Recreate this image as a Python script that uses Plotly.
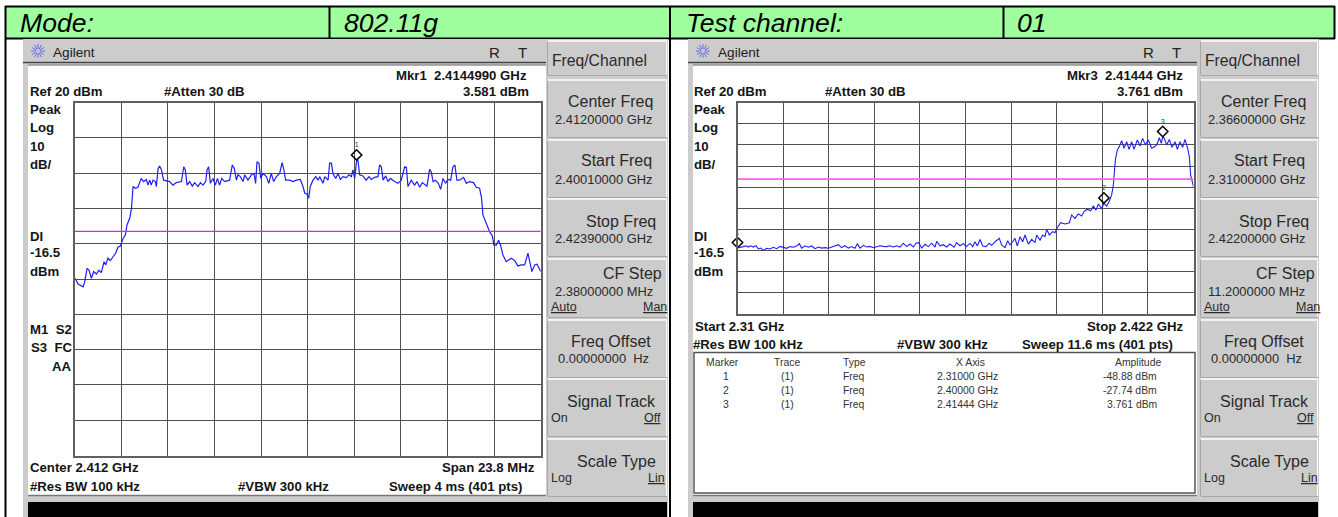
import math
import plotly.graph_objects as go

W, H = 1338, 517

# ---- data: left sweep (802.11g, ch 01), MHz and dBm ----
left_freq = [2400.10,2400.15,2400.27,2400.53,2400.61,2400.73,2400.83,2400.95,2401.07,2401.21,2401.34,2401.46,2401.60,2401.68,2401.80,2401.92,2402.06,2402.19,2402.31,2402.43,2402.57,2402.69,2402.77,2402.91,2403.00,2403.08,2403.20,2403.33,2403.50,2403.62,2403.76,2403.84,2403.93,2404.01,2404.10,2404.22,2404.27,2404.36,2404.44,2404.53,2404.64,2404.78,2404.95,2405.12,2405.29,2405.55,2405.67,2405.75,2405.84,2405.97,2406.11,2406.23,2406.40,2406.52,2406.65,2406.79,2406.86,2406.94,2407.03,2407.16,2407.28,2407.39,2407.50,2407.61,2407.76,2408.01,2408.15,2408.25,2408.36,2408.44,2408.56,2408.70,2408.78,2408.95,2409.12,2409.26,2409.34,2409.41,2409.51,2409.60,2409.72,2409.89,2410.01,2410.14,2410.26,2410.40,2410.57,2410.69,2410.77,2410.87,2411.08,2411.25,2411.42,2411.62,2411.76,2411.85,2411.96,2412.05,2412.13,2412.27,2412.41,2412.53,2412.61,2412.78,2412.87,2413.04,2413.12,2413.21,2413.29,2413.43,2413.55,2413.67,2413.80,2413.97,2414.11,2414.23,2414.31,2414.40,2414.50,2414.57,2414.65,2414.82,2414.99,2415.13,2415.25,2415.42,2415.59,2415.67,2415.76,2415.85,2415.98,2416.10,2416.22,2416.44,2416.61,2416.78,2416.95,2417.04,2417.12,2417.29,2417.46,2417.58,2417.72,2417.85,2418.09,2418.23,2418.31,2418.40,2418.53,2418.67,2418.79,2418.91,2419.04,2419.16,2419.30,2419.42,2419.52,2419.62,2419.76,2419.96,2420.10,2420.27,2420.47,2420.61,2420.78,2420.88,2420.95,2421.12,2421.29,2421.43,2421.51,2421.63,2421.75,2421.85,2421.97,2422.14,2422.40,2422.57,2422.74,2422.91,2423.08,2423.25,2423.33,2423.45,2423.59,2423.71,2423.90]
left_dbm = [-29.8,-30.1,-31.4,-32.2,-30.8,-27.0,-27.5,-29.8,-27.9,-28.6,-27.5,-28.2,-25.1,-26.0,-24.1,-24.8,-23.7,-22.7,-21.0,-20.7,-18.5,-17.5,-14.7,-12.8,-10.0,-3.8,-4.3,-4.0,-1.5,-2.4,-1.8,-3.4,-2.0,-3.4,-2.0,-2.4,-3.8,1.3,2.0,0.9,-2.0,-2.1,-2.4,-3.4,-2.7,-2.4,1.8,0.9,-3.4,-2.4,-3.7,-2.7,-3.8,-2.7,-3.4,-2.4,0.9,1.8,-2.9,-1.5,-3.4,-1.5,-3.4,-1.5,-2.4,-2.0,2.3,1.3,-2.0,-0.5,-1.0,-2.4,-0.5,-2.0,-0.5,-0.1,-2.9,3.2,2.8,-1.5,-0.1,-1.0,-2.9,-0.1,-2.4,-1.0,-0.1,3.0,1.3,-2.0,-2.0,-2.4,-2.0,-1.8,-3.8,-5.7,-5.9,-7.1,-3.8,-2.0,-1.0,-2.0,-1.0,-2.9,-1.0,-2.0,2.8,2.8,-0.1,-1.5,-0.1,-1.8,-1.0,-1.3,-0.5,-1.0,0.9,-1.5,3.581,3.5,-0.5,-0.8,-2.0,-1.0,-1.8,-1.2,-1.0,2.3,1.8,-2.0,-0.8,-2.4,-1.5,-2.4,-2.9,-2.0,1.8,1.6,-3.8,-2.0,-3.4,-2.4,-4.0,-2.7,-3.7,1.1,0.4,-2.4,-2.0,-2.9,-4.6,-1.5,-2.9,-1.8,-2.0,1.8,2.3,-2.0,-2.0,-1.2,-2.9,-2.4,-2.7,-4.0,-4.3,-7.1,-11.9,-14.2,-16.6,-17.8,-20.4,-20.4,-19.0,-20.4,-23.2,-25.1,-24.1,-24.8,-26.3,-26.0,-26.0,-22.7,-25.1,-27.9,-26.0,-25.8,-27.9]

# ---- data: right sweep, MHz and dBm ----
right_freq = [2310.00,2310.62,2311.43,2312.09,2312.66,2313.24,2313.89,2314.55,2315.12,2315.69,2316.35,2317.17,2317.98,2318.80,2319.62,2320.44,2321.26,2322.08,2322.90,2323.72,2324.53,2325.19,2325.76,2326.58,2327.40,2328.22,2329.04,2329.86,2330.67,2331.49,2332.31,2333.13,2333.95,2334.77,2335.59,2336.40,2337.22,2338.04,2338.86,2339.43,2340.09,2340.91,2341.73,2342.55,2343.36,2344.18,2345.00,2345.82,2346.64,2347.46,2348.28,2349.10,2349.91,2350.73,2351.55,2352.37,2353.19,2353.84,2354.50,2355.24,2356.05,2356.87,2357.69,2358.51,2358.92,2359.74,2360.56,2361.38,2362.19,2363.18,2363.83,2364.65,2365.47,2366.29,2366.94,2367.11,2367.76,2368.33,2368.91,2369.56,2370.22,2371.04,2371.85,2372.43,2373.25,2374.31,2374.88,2375.70,2376.36,2376.93,2377.59,2378.16,2378.73,2379.39,2380.04,2380.61,2381.43,2382.25,2383.07,2383.48,2384.30,2384.95,2385.53,2385.94,2386.59,2387.41,2387.98,2388.56,2389.37,2390.44,2391.50,2392.08,2392.89,2393.71,2394.53,2395.11,2395.92,2396.74,2397.40,2398.05,2398.63,2399.44,2400.00,2400.67,2401.25,2401.90,2402.31,2402.56,2402.80,2403.29,2403.78,2404.36,2404.93,2405.59,2406.16,2406.81,2407.39,2408.21,2408.86,2409.51,2410.17,2410.91,2411.72,2412.54,2413.12,2413.61,2414.10,2414.44,2414.75,2415.41,2416.06,2416.72,2417.46,2418.03,2418.68,2419.34,2419.91,2420.57,2420.98,2421.30,2422.00]
right_dbm = [-48.88,-48.7,-48.2,-47.8,-48.4,-47.8,-48.4,-47.8,-49.3,-48.9,-50.0,-49.0,-49.3,-48.5,-49.2,-48.1,-48.7,-49.0,-48.2,-48.5,-47.9,-46.8,-48.9,-47.8,-48.5,-47.9,-49.2,-48.4,-48.9,-48.7,-49.0,-48.4,-47.8,-47.3,-48.7,-47.8,-48.9,-48.2,-49.0,-46.8,-48.9,-47.6,-48.4,-48.1,-48.7,-48.4,-47.8,-48.1,-48.2,-47.8,-48.4,-47.8,-48.4,-46.6,-48.2,-47.0,-48.4,-46.6,-46.3,-48.9,-47.1,-48.2,-46.6,-48.4,-45.7,-47.8,-47.3,-48.4,-47.0,-48.5,-46.3,-47.8,-46.8,-48.2,-47.1,-46.6,-48.2,-45.9,-47.9,-44.8,-47.9,-48.2,-46.6,-47.6,-45.9,-44.3,-47.4,-48.7,-45.4,-47.4,-45.9,-44.3,-47.9,-43.5,-45.9,-42.7,-47.0,-44.8,-46.3,-42.7,-45.1,-42.7,-43.5,-40.0,-42.7,-41.1,-41.6,-39.1,-36.9,-37.5,-36.9,-33.2,-34.8,-32.7,-33.7,-31.6,-30.5,-31.2,-29.0,-30.9,-28.0,-30.1,-27.74,-29.0,-26.9,-23.7,-19.0,-14.3,-7.2,-2.4,-0.8,2.0,-1.6,1.5,-2.1,1.5,-2.1,2.3,-0.5,3.1,0.0,2.3,-1.6,-0.8,0.7,3.4,0.7,3.761,3.4,0.0,2.6,-1.1,1.5,-2.1,1.5,-1.1,2.6,-1.6,-5.6,-14.3,-19.8]

left_marker_freq = [2414.499]
left_marker_dbm = [3.581]
left_marker_label = ["1"]
right_marker_freq = [2310.0, 2400.0, 2414.44]
right_marker_dbm = [-48.88, -27.74, 3.761]
right_marker_label = ["1", "2", "3"]
left_display_line = -16.5
right_display_line = -16.24

table_rows = [
    ["1", "(1)", "Freq", "2.31000 GHz", "-48.88 dBm"],
    ["2", "(1)", "Freq", "2.40000 GHz", "-27.74 dBm"],
    ["3", "(1)", "Freq", "2.41444 GHz", "3.761 dBm"],
]

FONT = "Liberation Sans"
BLUE = "#1e1ef5"
GRID = "#505050"
BOLD_SIZE = 13.2


def px(x):
    return x / W


def py(y):
    return 1 - y / H


shapes, annos = [], []


def rect(x0, y0, x1, y1, fill, line=None, lw=0):
    shapes.append(dict(type="rect", xref="paper", yref="paper", x0=px(x0), x1=px(x1),
                       y0=py(y0), y1=py(y1), fillcolor=fill, layer="below",
                       line=dict(color=line or fill, width=lw)))


def line(x0, y0, x1, y1, color, lw=1):
    shapes.append(dict(type="line", xref="paper", yref="paper", x0=px(x0), x1=px(x1),
                       y0=py(y0), y1=py(y1), layer="below", line=dict(color=color, width=lw)))


def text(t, x, y, anchor="left", size=None, bold=False, color="#141414", italic=False, under=False):
    if size is None:
        size = BOLD_SIZE if bold else 12
    if bold:
        t = f"<b>{t}</b>"
    if italic:
        t = f"<i>{t}</i>"
    if under:
        t = f"<u>{t}</u>"
    annos.append(dict(text=t, xref="paper", yref="paper", x=px(x), y=py(y), xanchor=anchor,
                      yanchor="middle", showarrow=False, xshift=0, borderpad=0, borderwidth=0,
                      font=dict(family=FONT, size=size, color=color)))


# page header
rect(6, 7, 669, 38, "#9fff9f")
rect(671, 7, 1334, 38, "#9fff9f")
for seg in [(5, 6.5, 1335, 6.5), (5, 38.5, 1335, 38.5)]:
    line(*seg, "#000000", 2)
line(5.5, 6, 5.5, 517, "#000000", 2)
line(670, 6, 670, 517, "#000000", 2)
line(1334.5, 6, 1334.5, 39, "#000000", 2)
line(329.5, 6, 329.5, 38, "#000000", 2)
line(1003.5, 6, 1003.5, 38, "#000000", 2)
text("Mode:", 20, 23.5, size=26.6, italic=True, color="#000000")
text("802.11g", 344, 23.5, size=26.6, italic=True, color="#000000")
text("Test channel:", 686, 23.5, size=26.6, italic=True, color="#000000")
text("01", 1017, 23.5, size=26.6, italic=True, color="#000000")


def window(x0, win_right, panel_right, bottom_right):
    rect(x0, 39, win_right, 517, "#cccccc")
    rect(x0 + 5, 65.5, panel_right, 496, "#ffffff")
    line(x0, 62.5, panel_right, 62.5, "#444444", 1.5)
    line(x0 + 5, 65, panel_right, 65, "#777777", 1)
    line(x0 + 5, 495.5, panel_right, 495.5, "#777777", 1.5)
    rect(x0 + 5, 502, bottom_right, 517, "#000000")
    # logo spokes
    cx, cy = x0 + 15, 51
    for deg in (0, 30, 60, 90, 120, 150, 180, 210, 240, 270, 300, 330):
        a = math.radians(deg)
        line(cx + 2 * math.cos(a), cy + 2 * math.sin(a), cx + 7 * math.cos(a), cy + 7 * math.sin(a),
             "#6a6ae8", 1)
    text("Agilent", x0 + 30, 52, size=13.6, color="#1c1c1c")


window(23, 668, 546, 667)
window(688, 1319, 1197, 1318)


def softkeys(x0, x1, off, center, start, stop, step):
    for y0, y1 in [(42, 75), (81, 137), (141, 197), (200, 256), (260, 317), (321, 377), (380, 436), (440, 496)]:
        rect(x0, y0, x1, y1, "#cccccc")
        line(x0, y0 - 1, x1, y0 - 1, "#ffffff", 1.5)
        line(x1 - 0.5, y0, x1 - 0.5, y1, "#ffffff", 1)
        line(x0, y1 + 0.5, x1, y1 + 0.5, "#a8a8a8", 1)
        line(x0 - 0.5, y0, x0 - 0.5, y1, "#a8a8a8", 1)
    c = "#2a2a2a"
    text("Freq/Channel", 552 + off, 60, size=15.7, color=c)
    text("Center Freq", 653 + off, 102, "right", 16, color=c)
    text(center, 555 + off, 119, size=12.9, color=c)
    text("Start Freq", 652 + off, 161, "right", 16, color=c)
    text(start, 555 + off, 179, size=12.9, color=c)
    text("Stop Freq", 656 + off, 221, "right", 16, color=c)
    text(stop, 555 + off, 238, size=12.9, color=c)
    text("CF Step", 662 + off, 273, "right", 16, color=c)
    text(step, 555 + off, 291, size=12.9, color=c)
    text("Auto", 551 + off, 307, size=12.5, color=c, under=True)
    text("Man", 667 + off, 307, "right", 12.5, color=c, under=True)
    text("Freq Offset", 651 + off, 341, "right", 16, color=c)
    text("0.00000000  Hz", 558 + off, 358, size=12.9, color=c)
    text("Signal Track", 656 + off, 401, "right", 16, color=c)
    text("On", 551 + off, 418, size=12.5, color=c)
    text("Off", 661 + off, 418, "right", 12.5, color=c, under=True)
    text("Scale Type", 656 + off, 461, "right", 16, color=c)
    text("Log", 551 + off, 478, size=12.5, color=c)
    text("Lin", 665 + off, 478, "right", 12.5, color=c, under=True)


softkeys(548, 667, 0, "2.41200000 GHz", "2.40010000 GHz", "2.42390000 GHz", "2.38000000 MHz")
softkeys(1201, 1318, 653, "2.36600000 GHz", "2.31000000 GHz", "2.42200000 GHz", "11.2000000 MHz")

# left panel labels
text("R", 489, 52, size=15, color="#222222")
text("T", 518, 52, size=15, color="#222222")
text("Mkr1  2.4144990 GHz", 527, 75, "right", bold=True)
text("3.581 dBm", 529, 92, "right", bold=True)
text("Ref 20 dBm", 30, 92, bold=True)
text("#Atten 30 dB", 164, 92, bold=True)
for t, y in [("Peak", 110), ("Log", 128), ("10", 146), ("dB/", 164), ("DI", 236), ("-16.5", 253), ("dBm", 271)]:
    text(t, 30, y, bold=True)
    text(t, 694, y, bold=True)
text("M1  S2", 30, 329, bold=True)
text("S3  FC", 31, 347, bold=True)
text("AA", 52, 366, bold=True)
text("Center 2.412 GHz", 30, 467, bold=True)
text("Span 23.8 MHz", 535, 467, "right", bold=True)
text("#Res BW 100 kHz", 30, 486, bold=True)
text("#VBW 300 kHz", 238, 486, bold=True)
text("Sweep 4 ms (401 pts)", 522, 486, "right", bold=True)

# right panel labels
text("R", 1143, 52, size=15, color="#222222")
text("T", 1172, 52, size=15, color="#222222")
text("Mkr3  2.41444 GHz", 1183, 75, "right", bold=True)
text("3.761 dBm", 1183, 92, "right", bold=True)
text("Ref 20 dBm", 694, 92, bold=True)
text("#Atten 30 dB", 825, 92, bold=True)
text("Start 2.31 GHz", 695, 326, bold=True)
text("Stop 2.422 GHz", 1183, 326, "right", bold=True)
text("#Res BW 100 kHz", 693, 344, bold=True)
text("#VBW 300 kHz", 897, 344, bold=True)
text("Sweep 11.6 ms (401 pts)", 1173, 344, "right", bold=True)

# marker table
rect(694, 352.5, 1195, 493, "#ffffff", "#555555", 1.5)
tc = "#333333"
for t, x, a in [("Marker", 722, "center"), ("Trace", 787, "center"), ("Type", 843, "left"),
                ("X Axis", 971, "center"), ("Amplitude", 1138, "center")]:
    text(t, x, 362, a, 10.4, color=tc)
for row, y in zip(table_rows, (376, 390, 404)):
    text(row[0], 726, y, "center", 10.4, color=tc)
    text(row[1], 787, y, "center", 10.4, color=tc)
    text(row[2], 843, y, "left", 10.4, color=tc)
    text(row[3], 967, y, "center", 10.4, color=tc)
    text(row[4], 1157, y, "right", 10.4, color=tc)

fig = go.Figure()
fig.add_scatter(x=left_freq, y=left_dbm, mode="lines", line=dict(color=BLUE, width=1.2), xaxis="x", yaxis="y")
fig.add_scatter(x=[2400.1, 2423.9], y=[left_display_line] * 2, mode="lines",
                line=dict(color="#e81ee8", width=1.3), xaxis="x", yaxis="y")
fig.add_scatter(x=right_freq, y=right_dbm, mode="lines", line=dict(color=BLUE, width=1.1), xaxis="x2", yaxis="y2")
fig.add_scatter(x=[2310, 2422], y=[right_display_line] * 2, mode="lines",
                line=dict(color="#ff5cff", width=1.6), xaxis="x2", yaxis="y2")

# agilent draws the diamond just above the marker's point
L_LIFT, R_LIFT = 1.56, 2.6
fig.add_scatter(x=left_marker_freq, y=[v + L_LIFT for v in left_marker_dbm], mode="markers+text",
                text=left_marker_label, textposition="top center", cliponaxis=False,
                textfont=dict(family=FONT, size=7, color="#333333"),
                marker=dict(symbol="diamond-open", size=8, color="#000000", line=dict(width=1.5)),
                xaxis="x", yaxis="y")
fig.add_scatter(x=right_marker_freq, y=[v + R_LIFT for v in right_marker_dbm], mode="markers+text",
                text=right_marker_label, textposition="top center", cliponaxis=False,
                textfont=dict(family=FONT, size=7, color="#333333"),
                marker=dict(symbol="diamond-open", size=8, color="#000000", line=dict(width=1.5)),
                xaxis="x2", yaxis="y2")


def x_ax(x0, x1, start, step):
    return dict(domain=[px(x0), px(x1)], range=[start, start + 10 * step], tick0=start, dtick=step,
                showticklabels=False, ticks="", showgrid=True, gridcolor=GRID, gridwidth=1,
                zeroline=False, showline=True, mirror=True, linecolor="#606060", linewidth=2, fixedrange=True)


def y_ax(y0, y1):
    return dict(domain=[py(y1), py(y0)], range=[-80, 20], tick0=-80, dtick=10, showticklabels=False,
                ticks="", showgrid=True, gridcolor=GRID, gridwidth=1, zeroline=False, showline=True,
                mirror=True, linecolor="#606060", linewidth=2, fixedrange=True)


fig.update_layout(
    width=W, height=H, autosize=False, margin=dict(l=0, r=0, t=0, b=0), showlegend=False,
    paper_bgcolor="#ffffff", plot_bgcolor="#ffffff", hovermode=False,
    shapes=shapes, annotations=annos,
    xaxis=x_ax(74.7, 540.7, 2400.1, 2.38), yaxis=dict(y_ax(102.5, 455.5), anchor="x"),
    xaxis2=dict(x_ax(737.5, 1193.5, 2310, 11.2), anchor="y2"), yaxis2=dict(y_ax(102.7, 313.7), anchor="x2"),
)
fig.write_html("out.html", config=dict(displayModeBar=False),
               post_script="document.body.style.margin='0';document.body.style.overflow='hidden';")
